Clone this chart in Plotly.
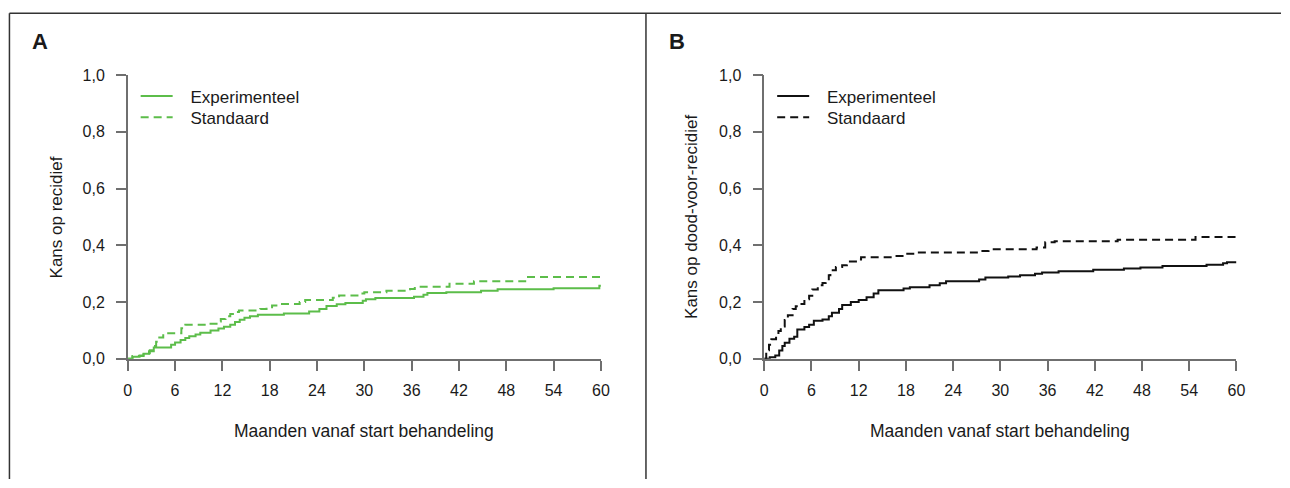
import plotly.graph_objects as go

# ---------------- data ----------------
months_a_exp = [0, 0.6, 1.5, 2.0, 2.7, 3.3, 5.5, 6.0, 6.7, 7.3, 7.8, 8.6, 9.2, 10.5, 11.5, 12.2, 13.0, 13.6,
                14.2, 14.8, 15.5, 16.5, 19.8, 23.0, 24.3, 25.2, 26.5, 27.6, 29.8, 30.2, 31.4, 36.3, 37.5,
                38.0, 40.4, 44.8, 46.9, 54.0, 59.8, 60]
risk_a_exp = [0, 0.007, 0.012, 0.018, 0.027, 0.040, 0.050, 0.058, 0.066, 0.073, 0.080, 0.086, 0.092, 0.100,
              0.107, 0.113, 0.120, 0.130, 0.138, 0.145, 0.150, 0.155, 0.160, 0.167, 0.176, 0.186, 0.192,
              0.197, 0.205, 0.210, 0.214, 0.219, 0.226, 0.232, 0.235, 0.240, 0.245, 0.249, 0.258, 0.258]

months_a_std = [0, 0.6, 2.0, 2.8, 3.2, 3.6, 4.0, 4.5, 6.8, 7.3, 10.2, 11.4, 11.8, 12.4, 13.0, 13.6, 14.1,
                16.8, 17.6, 18.3, 19.2, 21.8, 22.5, 26.0, 26.8, 29.5, 30.0, 32.8, 35.8, 36.4, 40.8, 43.9,
                50.4, 60]
risk_a_std = [0, 0.010, 0.020, 0.030, 0.045, 0.060, 0.075, 0.090, 0.108, 0.120, 0.124, 0.132, 0.140, 0.150,
              0.158, 0.165, 0.170, 0.176, 0.182, 0.188, 0.193, 0.200, 0.207, 0.215, 0.223, 0.230, 0.235,
              0.240, 0.246, 0.254, 0.265, 0.273, 0.288, 0.288]

months_b_exp = [0, 0.7, 1.4, 1.9, 2.3, 2.6, 3.2, 3.8, 4.2, 5.1, 5.7, 6.3, 7.4, 8.2, 8.6, 9.5, 9.9, 11.0,
                12.0, 13.0, 13.9, 14.5, 17.7, 18.5, 21.0, 22.3, 23.1, 27.3, 28.1, 31.0, 32.5, 34.4, 35.3,
                37.4, 41.8, 45.7, 47.8, 50.6, 56.2, 58.3, 58.8, 60]
risk_b_exp = [0, 0.006, 0.012, 0.029, 0.045, 0.057, 0.071, 0.078, 0.103, 0.112, 0.120, 0.134, 0.139, 0.150,
              0.162, 0.176, 0.190, 0.200, 0.207, 0.217, 0.230, 0.242, 0.248, 0.252, 0.259, 0.266, 0.273,
              0.280, 0.287, 0.290, 0.295, 0.300, 0.304, 0.309, 0.314, 0.318, 0.322, 0.327, 0.332, 0.337,
              0.340, 0.340]

months_b_std = [0, 0.25, 0.6, 0.9, 1.5, 1.8, 2.1, 2.6, 3.0, 3.6, 4.0, 4.4, 5.1, 5.7, 6.1, 6.8, 7.4, 7.8,
                8.2, 8.4, 9.1, 9.9, 10.5, 11.8, 12.3, 16.4, 18.0, 19.3, 27.3, 28.5, 34.6, 35.7, 36.9,
                44.9, 54.8, 60]
risk_b_std = [0, 0.030, 0.050, 0.069, 0.080, 0.098, 0.114, 0.137, 0.154, 0.176, 0.185, 0.193, 0.210, 0.222,
              0.244, 0.259, 0.267, 0.275, 0.295, 0.312, 0.324, 0.330, 0.343, 0.350, 0.358, 0.362, 0.370,
              0.375, 0.380, 0.386, 0.392, 0.411, 0.414, 0.420, 0.429, 0.429]

x_ticks = [0, 6, 12, 18, 24, 30, 36, 42, 48, 54, 60]
y_ticks = [0, 0.2, 0.4, 0.6, 0.8, 1.0]
y_ticklabels = ["0,0", "0,2", "0,4", "0,6", "0,8", "1,0"]
series_names = ["Experimenteel", "Standaard"]
panel_letters = ["A", "B"]
y_titles = ["Kans op recidief", "Kans op dood-voor-recidief"]
x_title = "Maanden vanaf start behandeling"

# ---------------- styles ----------------
W, H = 1290, 488
FONT = "Liberation Sans, Arial, sans-serif"
GREEN = "#5cbd4a"
BLACK = "#111111"
AXIS = "#6f6f6f"
TXT = "#1a1a1a"


def px_x(p):
    return p / W


def px_y(p):
    return 1 - p / H


fig = go.Figure()

gap = "\u00a0\u00a0\u2009"
fig.add_trace(go.Scatter(x=months_a_exp, y=risk_a_exp, mode="lines", line=dict(color=GREEN, width=2, shape="hv"),
                         name=gap + series_names[0], xaxis="x", yaxis="y", legend="legend"))
fig.add_trace(go.Scatter(x=months_a_std, y=risk_a_std, mode="lines",
                         line=dict(color=GREEN, width=2, shape="hv", dash="8px,5px"),
                         name=gap + series_names[1], xaxis="x", yaxis="y", legend="legend2"))
fig.add_trace(go.Scatter(x=months_b_exp, y=risk_b_exp, mode="lines", line=dict(color=BLACK, width=2, shape="hv"),
                         name=gap + series_names[0], xaxis="x2", yaxis="y2", legend="legend3"))
fig.add_trace(go.Scatter(x=months_b_std, y=risk_b_std, mode="lines",
                         line=dict(color=BLACK, width=2, shape="hv", dash="8px,5px"),
                         name=gap + series_names[1], xaxis="x2", yaxis="y2", legend="legend4"))

ydom = [px_y(363.5), px_y(69.5)]
xdomA = [px_x(125), px_x(603)]
xdomB = [px_x(768), px_x(1245)]

xa = dict(range=[0, 60], tickvals=x_ticks, showline=True, linecolor=AXIS, linewidth=1.5,
          ticks="outside", ticklen=10, tickwidth=1.5, tickcolor=AXIS, showgrid=False, zeroline=False,
          tickfont=dict(size=16, color=TXT, family=FONT), ticklabelstandoff=6, fixedrange=True)
ya = dict(range=[0, 1], tickvals=y_ticks, ticktext=y_ticklabels, showline=True, linecolor=AXIS, linewidth=1.5,
          ticks="outside", ticklen=10, tickwidth=1.5, tickcolor=AXIS, showgrid=False, zeroline=False,
          tickfont=dict(size=16, color=TXT, family=FONT), ticklabelstandoff=8, fixedrange=True)

legend_common = dict(font=dict(size=17, color=TXT, family=FONT), bgcolor="rgba(0,0,0,0)", borderwidth=0,
                     xanchor="left", yanchor="top", tracegroupgap=0, itemwidth=32)

annotations = []
for letter, xp in zip(panel_letters, [26, 670]):
    annotations.append(dict(text="<b>%s</b>" % letter, x=px_x(xp), y=px_y(34.5), xref="paper", yref="paper",
                            xanchor="left", yanchor="middle", showarrow=False,
                            font=dict(size=22, color=TXT, family=FONT)))
for title, xp in zip(y_titles, [53, 695]):
    annotations.append(dict(text=title, x=px_x(xp), y=px_y(216.5), xref="paper", yref="paper",
                            xanchor="center", yanchor="middle", textangle=-90, showarrow=False,
                            font=dict(size=17, color=TXT, family=FONT)))
for xp in [364, 1006.5]:
    annotations.append(dict(text=x_title, x=px_x(xp), y=px_y(438), xref="paper", yref="paper",
                            xanchor="center", yanchor="middle", showarrow=False,
                            font=dict(size=17.5, color=TXT, family=FONT)))

frame = dict(type="line", xref="paper", yref="paper", line=dict(color="#333333", width=1.5))
shapes = [
    dict(frame, x0=px_x(5.5), x1=1, y0=px_y(5.5), y1=px_y(5.5)),
    dict(frame, x0=px_x(5.5), x1=px_x(5.5), y0=0, y1=px_y(5.5)),
    dict(frame, x0=px_x(648.5), x1=px_x(648.5), y0=0, y1=px_y(5.5)),
]

fig.update_layout(
    width=W, height=H, margin=dict(l=0, r=0, t=0, b=0),
    paper_bgcolor="white", plot_bgcolor="white",
    font=dict(family=FONT, color=TXT),
    xaxis=dict(xa, domain=xdomA, anchor="y"),
    yaxis=dict(ya, domain=ydom, anchor="x"),
    xaxis2=dict(xa, domain=xdomB, anchor="y2"),
    yaxis2=dict(ya, domain=ydom, anchor="x2"),
    legend=dict(legend_common, x=px_x(133), y=px_y(73)),
    legend2=dict(legend_common, x=px_x(133), y=px_y(95)),
    legend3=dict(legend_common, x=px_x(776), y=px_y(73)),
    legend4=dict(legend_common, x=px_x(776), y=px_y(95)),
    showlegend=True,
    annotations=annotations,
    shapes=shapes,
    hovermode=False,
)

fig.write_html("out.html", config={"displayModeBar": False},
               post_script="document.body.style.margin='0';document.body.style.padding='0';"
                           "document.body.style.overflow='hidden';")
